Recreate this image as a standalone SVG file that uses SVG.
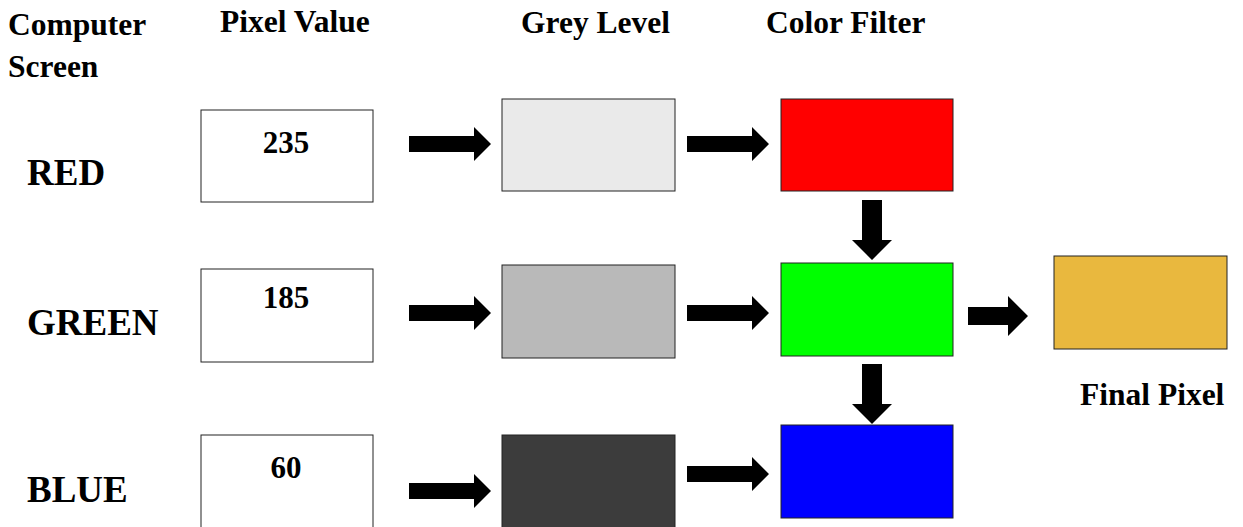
<svg xmlns="http://www.w3.org/2000/svg" width="1243" height="527" viewBox="0 0 1243 527">
  <style>
    .lbl { font-family: "Liberation Serif", "Times New Roman", serif; font-weight: bold; fill: #000; }
    .hdr { font-size: 31.5px; }
    .row { font-size: 37px; }
    .num { font-size: 31px; text-anchor: middle; }
    .box { stroke: #222; stroke-width: 1; }
    .arrow { fill: #000; }
  </style>
  <defs>
    <path id="arrowRight" d="M0,-8 H65 V-17 L82,0 L65,17 V8 H0 Z"/>
    <path id="arrowDown" d="M-10,0 H10 V40 H20 L0,60 L-20,40 H-10 Z"/>
    <path id="arrowRightBig" d="M0,-9 H40 V-20 L60,0 L40,20 V9 H0 Z"/>
  </defs>

  <rect width="1243" height="527" fill="#fff"/>

  <!-- column headers -->
  <g id="headers" class="lbl hdr">
    <text x="8" y="35">Computer</text>
    <text x="8" y="77">Screen</text>
    <text x="220" y="32">Pixel Value</text>
    <text x="521" y="33">Grey Level</text>
    <text x="766" y="33">Color Filter</text>
  </g>

  <!-- row labels -->
  <g id="row-labels" class="lbl row">
    <text x="27" y="185">RED</text>
    <text x="27" y="335">GREEN</text>
    <text x="27" y="502">BLUE</text>
  </g>

  <!-- pixel value boxes -->
  <g id="pixel-red">
    <rect class="box" x="201" y="110" width="172" height="92" fill="#fff"/>
    <text class="lbl num" x="286" y="153">235</text>
  </g>
  <g id="pixel-green">
    <rect class="box" x="201" y="269" width="172" height="93" fill="#fff"/>
    <text class="lbl num" x="286" y="308">185</text>
  </g>
  <g id="pixel-blue">
    <rect class="box" x="201" y="435" width="172" height="100" fill="#fff"/>
    <text class="lbl num" x="286" y="478">60</text>
  </g>

  <!-- grey level boxes -->
  <g id="grey-red">
    <rect class="box" x="502" y="99" width="173" height="92" fill="#eaeaea"/>
  </g>
  <g id="grey-green">
    <rect class="box" x="502" y="265" width="173" height="93" fill="#b9b9b9"/>
  </g>
  <g id="grey-blue">
    <rect class="box" x="502" y="435" width="173" height="100" fill="#3c3c3c"/>
  </g>

  <!-- colour filters -->
  <g id="filter-red">
    <rect class="box" x="781" y="99" width="172" height="92" fill="#ff0000"/>
  </g>
  <g id="filter-green">
    <rect class="box" x="781" y="263" width="172" height="93" fill="#00ff00"/>
  </g>
  <g id="filter-blue">
    <rect class="box" x="781" y="425" width="172" height="93" fill="#0000ff"/>
  </g>

  <!-- combined result -->
  <g id="final-pixel">
    <rect class="box" x="1054" y="256" width="173" height="93" fill="#e9b83e"/>
    <text class="lbl hdr" x="1080" y="405">Final Pixel</text>
  </g>

  <!-- connectors -->
  <g id="connectors" class="arrow">
    <use href="#arrowRight" x="409" y="144"/>
    <use href="#arrowRight" x="687" y="144"/>
    <use href="#arrowRight" x="409" y="313"/>
    <use href="#arrowRight" x="687" y="313"/>
    <use href="#arrowRight" x="409" y="491"/>
    <use href="#arrowRight" x="687" y="474"/>
    <use href="#arrowDown" x="872" y="200"/>
    <use href="#arrowDown" x="872" y="364"/>
    <use href="#arrowRightBig" x="968" y="316"/>
  </g>
</svg>
